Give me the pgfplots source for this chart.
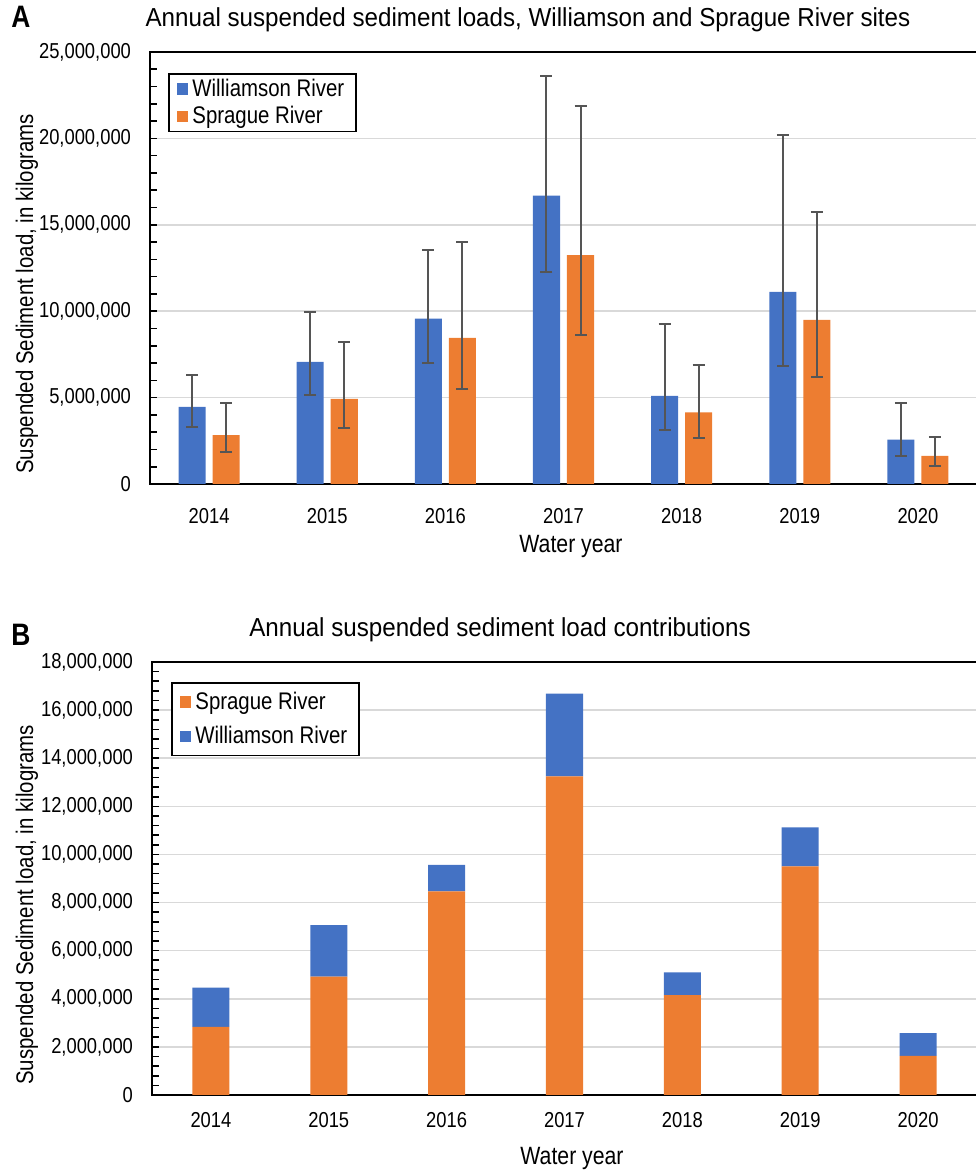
\documentclass[border=0pt]{standalone}
\usepackage{pgfplots}
\pgfplotsset{compat=1.18}
\usepackage{pgfplotstable}
\usepackage{fontspec}
\setmainfont{Liberation Sans}[FakeStretch=0.85]
\newfontfamily\titlefont{Liberation Sans}[FakeStretch=0.93]
\definecolor{wblue}{HTML}{4472C4}
\definecolor{sorange}{HTML}{ED7D31}
\definecolor{errgray}{HTML}{555555}
\definecolor{gridgray}{HTML}{D9D9D9}

% Panel A: loads with error bar extents (plus / minus), kg
\pgfplotstableread{
x W Wp Wm S Sp Sm
0 4460000 1870000 1180000 2830000 1840000 990000
1 7060000 2900000 1890000 4920000 3280000 1700000
2 9570000 3980000 2540000 8460000 5570000 2940000
3 16690000 6900000 4430000 13250000 8650000 4600000
4 5100000 4150000 1970000 4150000 2740000 1470000
5 11120000 9050000 4270000 9500000 6250000 3300000
6 2570000 2120000 970000 1630000 1110000 570000
}\loadsA

% Panel B: stacked contributions (Sprague, Williamson increment), kg
\pgfplotstableread{
x S D
0 2830000 1630000
1 4920000 2140000
2 8460000 1110000
3 13250000 3440000
4 4150000 950000
5 9500000 1620000
6 1630000 940000
}\loadsB

\pgfplotsset{panel/.style={
  scale only axis,
  xmin=-0.5, xmax=6.5,
  xtick={0,1,2,3,4,5,6},
  xticklabels={2014,2015,2016,2017,2018,2019,2020},
  ymin=0,
  ytick pos=left,
  axis line style={line width=1pt, black},
  ymajorgrids,
  grid style={gridgray, line width=0.8pt},
  tick align=inside,
  major tick length=3.5pt,
  minor tick length=3.5pt,
  every tick/.style={black, line width=0.8pt},
  x tick style={draw=none},
  scaled y ticks=false,
  /pgf/number format/assume math mode=true,
  yticklabel style={/pgf/number format/fixed, /pgf/number format/1000 sep={,},
    font=\fontsize{10.8}{12}\selectfont, xshift=-6pt},
  xticklabel style={font=\fontsize{10.8}{12}\selectfont, yshift=-5pt},
  legend cell align=left,
  legend style={at={(0,1)}, anchor=north west, draw=black, line width=0.8pt,
    font=\fontsize{12}{13}\selectfont, inner xsep=4pt, inner ysep=0.5pt,
    row sep=-0.5pt},
}}
\pgfplotsset{sqlegend/.style={
  legend image code/.code={\fill[##1] (0pt,-2.9pt) rectangle (5.8pt,2.9pt);}}}

\begin{document}
\begin{tikzpicture}
% ---------------- Panel A ----------------
\begin{axis}[panel,
  at={(75pt,344.5pt)}, anchor=south west,
  width=413.5pt, height=216pt,
  ybar, bar width=0.229,
  ymax=25000000,
  ytick={0,5000000,10000000,15000000,20000000,25000000},
  minor y tick num=4,
  legend style={xshift=9pt, yshift=-10.5pt},
  sqlegend,
]
\addplot[fill=wblue, draw=none, bar shift=-0.144, sqlegend,
  error bars/.cd, y dir=both, y explicit, error mark=|,
  error bar style={errgray, line width=1pt},
  error mark options={errgray, line width=1pt, mark size=3pt}]
  table[x=x, y=W, y error plus=Wp, y error minus=Wm] {\loadsA};
\addlegendentry{Williamson River}
\addplot[fill=sorange, draw=none, bar shift=0.144, sqlegend,
  error bars/.cd, y dir=both, y explicit, error mark=|,
  error bar style={errgray, line width=1pt},
  error mark options={errgray, line width=1pt, mark size=3pt}]
  table[x=x, y=S, y error plus=Sp, y error minus=Sm] {\loadsA};
\addlegendentry{Sprague River}
\end{axis}

% ---------------- Panel B ----------------
\begin{axis}[panel,
  at={(76pt,39pt)}, anchor=south west,
  width=412.5pt, height=216.5pt,
  ybar stacked, bar width=0.314,
  ymax=18000000,
  ytick={0,2000000,4000000,6000000,8000000,10000000,12000000,14000000,16000000,18000000},
  minor y tick num=4,
  legend style={xshift=9.5pt, yshift=-10pt, row sep=3pt, inner ysep=2.5pt},
  sqlegend,
]
\addplot[fill=sorange, draw=none, sqlegend] table[x=x, y=S] {\loadsB};
\addlegendentry{Sprague River}
\addplot[fill=wblue, draw=none, sqlegend] table[x=x, y=D] {\loadsB};
\addlegendentry{Williamson River}
\end{axis}

% Titles and labels
\node[anchor=base west, inner sep=0pt, font=\fontsize{15.5}{17}\selectfont\bfseries] at (5.5pt,572.5pt) {A};
\node[anchor=base, font=\titlefont\fontsize{13}{15}\selectfont] at (264pt,573pt) {Annual suspended sediment loads, Williamson and Sprague River sites};
\node[anchor=base, rotate=90, font=\fontsize{12}{14}\selectfont] at (16.5pt,439.5pt) {Suspended Sediment load, in kilograms};
\node[anchor=base, font=\fontsize{12.5}{14}\selectfont] at (285.5pt,310pt) {Water year};

\node[anchor=base west, inner sep=0pt, font=\fontsize{15.5}{17}\selectfont\bfseries] at (5.5pt,263.5pt) {B};
\node[anchor=base, font=\titlefont\fontsize{13}{15}\selectfont] at (250pt,268pt) {Annual suspended sediment load contributions};
\node[anchor=base, rotate=90, font=\fontsize{12}{14}\selectfont] at (16.5pt,134pt) {Suspended Sediment load, in kilograms};
\node[anchor=base, font=\fontsize{12.5}{14}\selectfont] at (286pt,4.5pt) {Water year};

\pgfresetboundingbox
\useasboundingbox (0pt,0pt) rectangle (487.5pt,586.5pt);
\end{tikzpicture}
\end{document}
